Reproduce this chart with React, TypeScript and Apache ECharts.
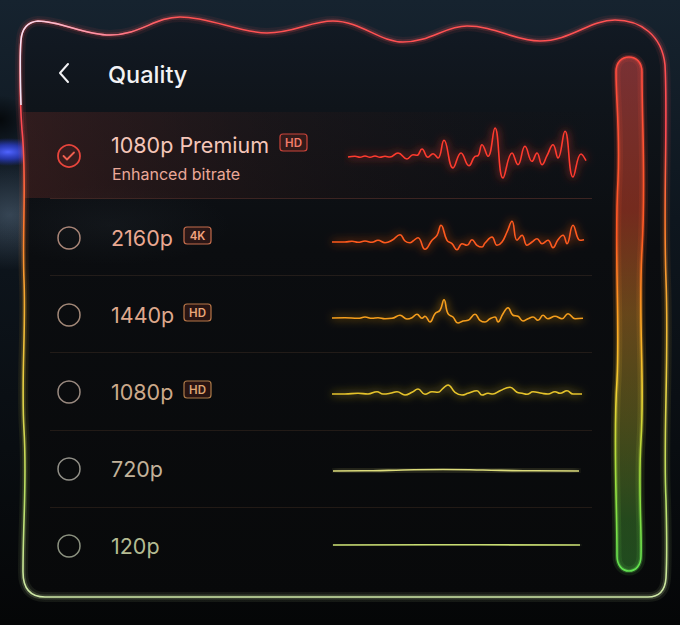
import React, { useEffect, useRef } from "react";
import * as echarts from "echarts";

// ---- Data ----
const qualityLabels = ["1080p Premium", "2160p", "1440p", "1080p", "720p", "120p"];
const qualityBadges = ["HD", "4K", "HD", "HD", "", ""];
const subtitleText = "Enhanced bitrate";
const titleText = "Quality";

const wave1080Premium: number[][] = [
  [3, 0], [10, 0.7], [15, -0.3], [20, 1], [25, -0.3], [30, 1], [35, -0.3], [40, 0.7], [45, 0],
  [53, 4], [62, -2], [68, 2.3], [72, 1.7], [77, 8], [83, -0.3], [88, 3.3], [93, -1], [99, 16.7],
  [108, -11], [116, 4], [124, -8.7], [130, 0.7], [133, 1.3], [137, 12.3], [143, 0.7], [150, 29],
  [158, -21], [167, 4], [173, -7.7], [180, 10.7], [187, -4.3], [192, 4], [197, -7.7], [202, 1.3],
  [208, 12.3], [213, -1], [220, 25.7], [228, -20], [236, 3], [241, -3.7],
];
const wave2160: number[][] = [
  [7, 0], [20, 0], [27, 0.7], [33, -0.3], [40, 1], [47, -0.3], [53, 1.7], [60, -0.7], [67, 1.7],
  [75, 7.3], [80, 1], [85, -0.7], [88, 1], [93, 4.3], [100, -7.3], [107, 1.7], [112, 6.7], [116, 16.7],
  [122, 1.7], [127, -1.7], [132, -7.7], [137, -1.7], [142, -3.3], [147, 2.3], [152, -3.3], [157, -5],
  [160, -1], [167, 5], [172, -3.3], [177, 0], [182, 10], [187, 20.7], [192, 1.7], [197, 6.7],
  [202, -3.3], [207, 0], [212, 3.3], [217, -1.7], [223, 1.7], [228, -5.7], [233, 2.3], [238, 6.7],
  [242, -1.7], [248, 16.7], [255, 1.7], [259, 2.3],
];
const wave1440: number[][] = [
  [7, 0], [20, 0.3], [33, -0.3], [40, 1], [47, -0.3], [53, 0.3], [60, -0.7], [67, -0.3], [75, 2.7],
  [82, -1], [87, 0.3], [92, 3.7], [97, -0.3], [100, 1.7], [105, -4], [110, 4.3], [115, 7.7], [119, 18.3],
  [123, 4.3], [128, 1], [133, -5], [138, -3], [143, -2.3], [150, 3.7], [155, -2.3], [160, -4],
  [165, -0.7], [170, 1], [173, -4], [178, 4.3], [183, 10.3], [188, 2.7], [193, 1.7], [198, -3],
  [203, -0.7], [208, 1], [213, -2.3], [218, 2.7], [223, -0.7], [230, 1.7], [237, -0.7], [243, 4.3],
  [250, -0.7], [258, -0.3],
];
const wave1080: number[][] = [
  [7, 0], [20, 0], [33, 0.7], [43, 0], [52, 2.3], [58, 0], [65, 0.7], [72, 2.3], [80, -1], [87, 1.7],
  [93, 5], [100, -0.3], [107, 2.3], [113, 1.7], [118, 5.7], [123, 9], [130, 1.7], [137, -1], [143, 0.7],
  [152, 3.3], [157, -1], [163, 0.7], [168, 0], [175, 3.3], [185, 6.7], [192, 1.7], [197, 0.7],
  [202, -0.3], [208, 2.3], [217, 0.7], [223, 0], [230, 2.3], [235, 0.7], [242, 3.3], [248, 0], [257, 0],
];
const wave720: number[][] = [[0, 0], [40, 0.3], [70, 1], [110, 1.5], [150, 1], [190, 0.3], [246, 0]];
const wave120: number[][] = [[0, 0], [120, 0.2], [247, 0]];

const waves = [wave1080Premium, wave2160, wave1440, wave1080, wave720, wave120];

// ---- Shapes ----
const outlineD =
  "M 45 597 C 30 597 23 588 23 572 C 23 520 27 480 24 430 C 21 380 26 330 24 280 C 22 230 27 180 22 130 " +
  "C 19 90 20 50 21 40 C 22 28 28 22 38 21 C 60 21 85 35 110 35 C 140 35 155 17 180 17 " +
  "C 210 17 240 33 267 33 C 295 33 310 21 333 21 C 360 21 380 42 403 42 C 430 42 445 26 467 26 " +
  "C 495 26 515 41 540 41 C 570 41 590 20 615 20 C 640 20 662 35 665 65 " +
  "C 668 120 663 200 666 280 C 669 360 663 440 666 500 C 667 540 667 560 666 578 " +
  "C 665 592 658 597 648 597 L 45 597 Z";
const highlightD =
  "M 21 105 C 20 70 20 50 21 40 C 22 28 28 22 38 21 C 60 21 85 35 110 35 C 140 35 155 17 180 17";
const pillD =
  "M 616 72 C 616 62 622 57 629 57 C 636 57 642 62 642 72 C 642 130 646 180 642 250 " +
  "C 638 320 645 380 641 440 C 638 490 642 530 641 556 C 641 565 636 571 629 571 " +
  "C 622 571 617 565 617 556 C 617 500 613 440 617 380 C 620 320 614 250 618 180 C 620 130 616 100 616 72 Z";

echarts.graphic.registerShape("panelOutline", echarts.graphic.extendPath(outlineD, {}) as any);
echarts.graphic.registerShape("panelHighlight", echarts.graphic.extendPath(highlightD, {}) as any);
echarts.graphic.registerShape("levelPill", echarts.graphic.extendPath(pillD, {}) as any);

const LG = echarts.graphic.LinearGradient;
const RG = echarts.graphic.RadialGradient;

const rowY = [157, 238, 315, 392, 469, 546];
const textColors = ["#f5c6b9", "#eaa891", "#dea88c", "#cca98a", "#c2b29a", "#b4bb92"];
const circleColors = ["#e8453c", "#aa8678", "#a28878", "#9a8a80", "#929088", "#8c9280"];
const badgeStroke = ["#cc443a", "#c46c4c", "#b87648", "#ac7a48"];
const badgeText = ["#f27c6a", "#f2a27e", "#e8a678", "#dea674"];
const badgeX = [280, 184, 184, 184];
const lineColors = ["#ff3a2e", "#ff5a1e", "#f59e1c", "#e6c42c", "#dcdc7c", "#c8dc72"];
const gridDefs = [
  { left: 345, top: 122, width: 250, max: 250 },
  { left: 325, top: 207, width: 265, max: 265 },
  { left: 325, top: 283, width: 265, max: 265 },
  { left: 325, top: 359, width: 265, max: 265 },
  { left: 333, top: 436, width: 246, max: 246 },
  { left: 333, top: 510, width: 247, max: 247 },
];
const dividerY = [198, 275, 352, 430, 507];

export default function App() {
  const ref = useRef<HTMLDivElement>(null);
  useEffect(() => {
    if (!ref.current) return;
    const chart = echarts.init(ref.current, null, { renderer: "svg" });

    const outlineStroke = new LG(0, 0, 0, 1, [
      { offset: 0, color: "#ff5252" },
      { offset: 0.2, color: "#ff4a52" },
      { offset: 0.36, color: "#ff7a2c" },
      { offset: 0.5, color: "#f4b032" },
      { offset: 0.63, color: "#e8d042" },
      { offset: 0.82, color: "#b8e064" },
      { offset: 1, color: "#cfe8a8" },
    ]);
    const pillFill = new LG(0, 0, 0, 1, [
      { offset: 0, color: "rgba(205,70,70,0.55)" },
      { offset: 0.3, color: "rgba(220,70,40,0.5)" },
      { offset: 0.5, color: "rgba(215,140,40,0.45)" },
      { offset: 0.7, color: "rgba(170,165,45,0.4)" },
      { offset: 0.9, color: "rgba(70,150,50,0.45)" },
      { offset: 1, color: "rgba(55,140,50,0.5)" },
    ]);
    const pillStroke = new LG(0, 0, 0, 1, [
      { offset: 0, color: "#ff4a40" },
      { offset: 0.35, color: "#ff5a22" },
      { offset: 0.5, color: "#ffa022" },
      { offset: 0.65, color: "#f0d032" },
      { offset: 0.85, color: "#90e040" },
      { offset: 1, color: "#60e050" },
    ]);

    const graphics: any[] = [];
    // background
    graphics.push({
      type: "rect", z: -20, shape: { x: 0, y: 0, width: 680, height: 625 },
      style: { fill: new LG(0, 0, 0, 1, [
        { offset: 0, color: "#16232f" },
        { offset: 0.35, color: "#0e161e" },
        { offset: 1, color: "#050607" },
      ]) },
    });
    graphics.push({
      type: "ellipse", z: -19, shape: { cx: 10, cy: 215, rx: 70, ry: 55 },
      style: { fill: new RG(0.5, 0.5, 0.5, [
        { offset: 0, color: "rgba(80,100,120,0.6)" },
        { offset: 1, color: "rgba(80,100,120,0)" },
      ]) },
    });
    graphics.push({
      type: "ellipse", z: -19, shape: { cx: 0, cy: 120, rx: 30, ry: 25 },
      style: { fill: new RG(0.5, 0.5, 0.5, [
        { offset: 0, color: "rgba(0,0,0,0.7)" },
        { offset: 1, color: "rgba(0,0,0,0)" },
      ]) },
    });
    graphics.push({
      type: "ellipse", z: -18, shape: { cx: 8, cy: 152, rx: 36, ry: 14 },
      style: { fill: new RG(0.5, 0.5, 0.5, [
        { offset: 0, color: "rgba(80,100,255,1)" },
        { offset: 0.5, color: "rgba(50,70,240,0.65)" },
        { offset: 1, color: "rgba(40,60,220,0)" },
      ]) },
    });
    // panel fill
    graphics.push({
      type: "panelOutline", z: -15,
      style: { fill: new LG(0, 0, 0, 1, [
        { offset: 0, color: "#121a24" },
        { offset: 0.16, color: "#0f141a" },
        { offset: 0.4, color: "#0b0d10" },
        { offset: 1, color: "#08090a" },
      ]), stroke: "none" },
    });
    // left haze inside panel
    graphics.push({
      type: "ellipse", z: -14, shape: { cx: 110, cy: 225, rx: 120, ry: 40 },
      style: { fill: new RG(0.5, 0.5, 0.5, [
        { offset: 0, color: "rgba(60,70,80,0.14)" },
        { offset: 1, color: "rgba(60,70,80,0)" },
      ]) },
    });
    // selected row background
    graphics.push({
      type: "rect", z: -13, shape: { x: 23, y: 112, width: 590, height: 86 },
      style: { fill: new LG(0, 0, 1, 0, [
        { offset: 0, color: "rgba(95,40,36,0.42)" },
        { offset: 0.45, color: "rgba(55,28,26,0.25)" },
        { offset: 1, color: "rgba(30,15,15,0)" },
      ]) },
    });
    // header divider
    graphics.push({
      type: "line", z: -12, shape: { x1: 23, y1: 111.5, x2: 612, y2: 111.5 },
      style: { stroke: new LG(0, 0, 1, 0, [
        { offset: 0, color: "rgba(255,150,140,0.3)" },
        { offset: 1, color: "rgba(255,150,140,0.08)" },
      ]), lineWidth: 1 },
    });
    dividerY.forEach((y, i) => {
      graphics.push({
        type: "line", z: -12, shape: { x1: 50, y1: y + 0.5, x2: 592, y2: y + 0.5 },
        style: { stroke: i === 0 ? "rgba(255,120,90,0.2)" : "rgba(255,180,120,0.1)", lineWidth: 1 },
      });
    });
    // outline glow layers
    [
      { w: 10, o: 0.08 },
      { w: 5, o: 0.18 },
      { w: 1.6, o: 1 },
    ].forEach((l) => {
      graphics.push({
        type: "panelOutline", z: -10,
        style: { fill: "none", stroke: outlineStroke, lineWidth: l.w, opacity: l.o },
      });
    });
    graphics.push({
      type: "panelHighlight", z: -9,
      style: {
        fill: "none", lineWidth: 1.6,
        stroke: new LG(20, 30, 190, 30, [
          { offset: 0, color: "rgba(240,235,255,0.95)" },
          { offset: 0.5, color: "rgba(255,180,210,0.6)" },
          { offset: 1, color: "rgba(255,110,130,0)" },
        ], true),
      },
    });
    // level pill
    graphics.push({ type: "levelPill", z: -8, style: { fill: pillFill, stroke: "none" } });
    [
      { w: 9, o: 0.1 },
      { w: 4, o: 0.25 },
      { w: 1.6, o: 1 },
    ].forEach((l) => {
      graphics.push({
        type: "levelPill", z: -7,
        style: { fill: "none", stroke: pillStroke, lineWidth: l.w, opacity: l.o },
      });
    });
    // header
    graphics.push({
      type: "polyline", z: 5, shape: { points: [[68, 64], [60, 73], [68, 82]] },
      style: { stroke: "#f2f2f4", lineWidth: 2, fill: "none", lineCap: "round", lineJoin: "round" },
    });
    graphics.push({
      type: "text", z: 5, x: 108, y: 74,
      style: { text: titleText, fill: "#f2f2f4", font: "500 23.5px Inter", textAlign: "left", textVerticalAlign: "middle" },
    });
    // rows
    qualityLabels.forEach((label, i) => {
      const y = rowY[i];
      const ty = i === 0 ? 145 : y;
      graphics.push({
        type: "circle", z: 5, shape: { cx: 69, cy: i === 0 ? 156 : y, r: 11 },
        style: { fill: i === 0 ? "rgba(232,69,60,0.08)" : "none", stroke: circleColors[i], lineWidth: i === 0 ? 1.8 : 1.5 },
      });
      if (i === 0) {
        graphics.push({
          type: "polyline", z: 6, shape: { points: [[63.5, 156], [67, 159.5], [74, 152.5]] },
          style: { stroke: "#f06050", lineWidth: 1.8, fill: "none", lineCap: "round", lineJoin: "round" },
        });
      }
      graphics.push({
        type: "text", z: 5, x: 111, y: ty,
        style: { text: label, fill: textColors[i], font: "400 21.5px Inter", textAlign: "left", textVerticalAlign: "middle" },
      });
      const b = qualityBadges[i];
      if (b) {
        const by = ty - 11;
        graphics.push({
          type: "rect", z: 5, shape: { x: badgeX[i], y: by, width: 27, height: 17, r: 3 },
          style: { fill: "rgba(150,50,35,0.22)", stroke: badgeStroke[i], lineWidth: 1.2 },
        });
        graphics.push({
          type: "text", z: 6, x: badgeX[i] + 13.5, y: by + 9,
          style: { text: b, fill: badgeText[i], font: "600 11.5px Inter", textAlign: "center", textVerticalAlign: "middle" },
        });
      }
    });
    graphics.push({
      type: "text", z: 5, x: 112, y: 174,
      style: { text: subtitleText, fill: "#eba898", font: "400 16px Inter", textAlign: "left", textVerticalAlign: "middle" },
    });

    const option: any = {
      animation: false,
      backgroundColor: "#07090c",
      graphic: { elements: graphics },
      grid: gridDefs.map((g) => ({ left: g.left, top: g.top, width: g.width, height: 70 })),
      xAxis: gridDefs.map((g, i) => ({ type: "value", gridIndex: i, min: 0, max: g.max, show: false })),
      yAxis: gridDefs.map((g, i) => ({ type: "value", gridIndex: i, min: -35, max: 35, show: false })),
      series: waves.map((w, i) => ({
        type: "line",
        xAxisIndex: i,
        yAxisIndex: i,
        data: w,
        smooth: 0.45,
        showSymbol: false,
        silent: true,
        z: 10,
        lineStyle: { color: lineColors[i], width: 1.6, shadowBlur: 8, shadowColor: lineColors[i] },
      })),
    };
    chart.setOption(option);
    return () => chart.dispose();
  }, []);
  return (
    <div
      ref={ref}
      style={{ position: "fixed", left: 0, top: 0, width: 680, height: 625 }}
    />
  );
}
